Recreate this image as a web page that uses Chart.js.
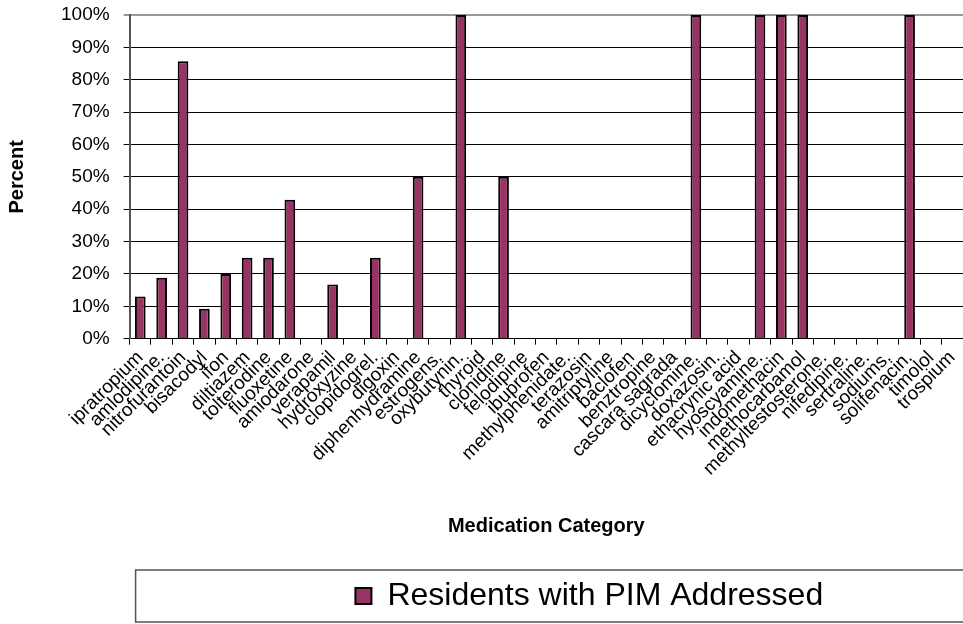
<!DOCTYPE html>
<html lang="en">
<head>
    <meta charset="UTF-8">
    <title>Residents with PIM Addressed</title>
    <style>
        body {
            margin: 0;
            background: #fff;
        }

        .chart-box {
            width: 963px;
            height: 624px;
        }
    </style>
</head>
<body>

    <div class="chart-box">
        <canvas id="pimChart"></canvas>
    </div>

    <script src="https://cdn.jsdelivr.net/npm/chart.js"></script>

    <script>
        // Datos del gráfico
        const medications = [
            'ipratropium', 'amlodipine.', 'nitrofurantoin', 'bisacodyl', 'ifon', 'diltiazem',
            'tolterodine', 'fluoxetine', 'amiodarone', 'verapamil', 'hydroxyzine', 'clopidogrel.',
            'digoxin', 'diphenhydramine', 'estrogens.', 'oxybutynin.', 'thyroid', 'clonidine',
            'felodipine', 'ibuprofen', 'methylphenidate.', 'terazosin', 'amitriptyline', 'baclofen',
            'benztropine', 'cascara sagrada', 'dicyclomine.', 'doxazosin.', 'ethacrynic acid',
            'hyoscyamine.', 'indomethacin', 'methocarbamol', 'methyltestosterone.', 'nifedipine.',
            'sertraline.', 'sodiums.', 'solifenacin.', 'timolol', 'trospium'
        ];

        const addressedPercent = [
            13, 18.8, 85.7, 9.2, 20, 25,
            25, 42.9, 0, 16.7, 0, 25,
            0, 50, 0, 100, 0, 50,
            0, 0, 0, 0, 0, 0,
            0, 0, 100, 0, 0,
            100, 100, 100, 0, 0,
            0, 0, 100, 0, 0
        ];

        const seriesLabel = 'Residents with PIM Addressed';
        const yTicks = [0, 10, 20, 30, 40, 50, 60, 70, 80, 90, 100];

        const fontFamily = '"Liberation Sans", Arial, sans-serif';

        // Caja alrededor de la leyenda (como en Excel)
        const legendFrame = {
            id: 'legendFrame',
            afterLayout(chart) {
                const lg = chart.legend;
                lg.left = chart.chartArea.left + 6;
                lg.right = chart.width + 80;
            },
            afterDraw(chart) {
                const lg = chart.legend;
                const ctx = chart.ctx;
                ctx.save();
                ctx.strokeStyle = '#555';
                ctx.lineWidth = 1.5;
                ctx.strokeRect(lg.left, lg.top, lg.right - lg.left, lg.bottom - lg.top);
                ctx.restore();
            }
        };

        const ctx = document.getElementById('pimChart');
        new Chart(ctx, {
            type: 'bar',
            data: {
                labels: medications,
                datasets: [{
                    label: seriesLabel,
                    data: addressedPercent,
                    backgroundColor: '#993366',
                    borderColor: '#000',
                    borderWidth: 2,
                    barPercentage: 0.5,
                    categoryPercentage: 1
                }]
            },
            options: {
                responsive: true,
                maintainAspectRatio: false,
                animation: false,
                layout: {
                    padding: { top: 15, right: -5, bottom: 2, left: 0 }
                },
                plugins: {
                    tooltip: { enabled: false },
                    legend: {
                        position: 'bottom',
                        labels: {
                            color: '#000',
                            font: { family: fontFamily, size: 32 },
                            boxWidth: 16,
                            boxHeight: 16,
                            padding: 10
                        }
                    }
                },
                scales: {
                    x: {
                        afterFit(scale) {
                            // el eje llega hasta los bordes, como en el original
                            scale.paddingLeft = 0;
                            scale.paddingRight = 0;
                        },
                        grid: {
                            drawOnChartArea: false,
                            drawTicks: true,
                            tickLength: 6,
                            color: '#000'
                        },
                        border: { color: '#000', width: 1 },
                        ticks: {
                            color: '#000',
                            font: { family: fontFamily, size: 19 },
                            minRotation: 45,
                            maxRotation: 45,
                            autoSkip: false,
                            padding: 2
                        },
                        title: {
                            display: true,
                            text: 'Medication Category',
                            color: '#000',
                            font: { family: fontFamily, size: 20, weight: 'bold' },
                            padding: { top: 32, bottom: 32 }
                        }
                    },
                    y: {
                        min: 0,
                        max: 100,
                        afterFit(scale) {
                            scale.paddingTop = 0;
                        },
                        afterBuildTicks(scale) {
                            scale.ticks = yTicks.map(v => ({ value: v }));
                        },
                        grid: {
                            color: c => c.index === yTicks.length - 1 ? '#999' : '#000',
                            lineWidth: c => c.index === yTicks.length - 1 ? 2 : 1,
                            tickLength: 6
                        },
                        border: { color: '#555', width: 2 },
                        ticks: {
                            color: '#000',
                            font: { family: fontFamily, size: 19 },
                            padding: 14,
                            callback: v => v + '%'
                        },
                        title: {
                            display: true,
                            text: 'Percent',
                            color: '#000',
                            font: { family: fontFamily, size: 20, weight: 'bold' },
                            padding: { top: 5, bottom: 18 }
                        }
                    }
                }
            },
            plugins: [legendFrame]
        });
    </script>

</body>
</html>
